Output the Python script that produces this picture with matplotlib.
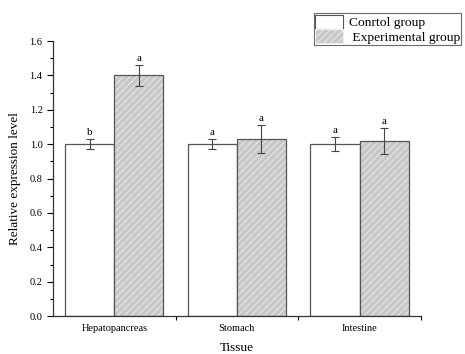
import numpy as np
import matplotlib.pyplot as plt
from matplotlib.patches import Patch
from matplotlib.ticker import MultipleLocator, FixedLocator, NullFormatter

plt.rcParams['font.family'] = ['Liberation Serif', 'DejaVu Serif']
plt.rcParams['hatch.linewidth'] = 0.6

tissues = ["Hepatopancreas", "Stomach", "Intestine"]
control_mean = [1.00, 1.00, 1.00]
control_err = [0.03, 0.03, 0.04]
exp_mean = [1.40, 1.03, 1.02]
exp_err = [0.06, 0.08, 0.075]
control_letters = ["b", "a", "a"]
exp_letters = ["a", "a", "a"]

fig = plt.figure(figsize=(4.65, 3.54), dpi=100)
ax = fig.add_axes([0.114, 0.107, 0.791, 0.777])

x = np.arange(1, len(tissues) + 1)
w = 0.4
edge = "#555555"
grey = "#c8c8c8"
hatch_col = "#eeeeee"

# control bars
ax.bar(x - w / 2, control_mean, width=w, color="white", edgecolor=edge, linewidth=0.9)
# experimental bars: grey fill with white hatch, then the outline on top
ax.bar(x + w / 2, exp_mean, width=w, color=grey, edgecolor=hatch_col, hatch="/////", linewidth=0)
ax.bar(x + w / 2, exp_mean, width=w, fill=False, edgecolor=edge, linewidth=0.9)

ax.errorbar(x - w / 2, control_mean, yerr=control_err, fmt="none", ecolor="#444444",
            elinewidth=0.8, capsize=3, capthick=0.8)
ax.errorbar(x + w / 2, exp_mean, yerr=exp_err, fmt="none", ecolor="#444444",
            elinewidth=0.8, capsize=3, capthick=0.8)

for xi, m, e, s in zip(x - w / 2, control_mean, control_err, control_letters):
    ax.text(xi, m + e + 0.012, s, ha="center", va="bottom", fontsize=8)
for xi, m, e, s in zip(x + w / 2, exp_mean, exp_err, exp_letters):
    ax.text(xi, m + e + 0.012, s, ha="center", va="bottom", fontsize=8)

ax.set_xlim(0.5, 3.5)
ax.set_ylim(0, 1.6)
ax.yaxis.set_major_locator(MultipleLocator(0.2))
ax.yaxis.set_minor_locator(MultipleLocator(0.1))
ax.yaxis.set_major_formatter(plt.FuncFormatter(lambda v, p: f"{v:.1f}"))

# group labels at centres, ticks at the boundaries
ax.set_xticks(x)
ax.set_xticklabels(tissues, fontsize=7.5)
ax.tick_params(axis="x", which="major", length=0, pad=6)
ax.xaxis.set_minor_locator(FixedLocator([1.5, 2.5, 3.5]))
ax.xaxis.set_minor_formatter(NullFormatter())
ax.tick_params(axis="x", which="minor", length=3, direction="out", width=0.8)
ax.tick_params(axis="y", which="major", length=4, direction="out", width=0.8, labelsize=7.5)
ax.tick_params(axis="y", which="minor", length=2, direction="out", width=0.8)

for side in ["top", "right"]:
    ax.spines[side].set_visible(False)
for side in ["left", "bottom"]:
    ax.spines[side].set_linewidth(0.9)
    ax.spines[side].set_color("#333333")

ax.set_xlabel("Tissue", fontsize=9.5, labelpad=6)
ax.set_ylabel("Relative expression level", fontsize=9.5, labelpad=6)

handles = [
    Patch(facecolor="white", edgecolor=edge, linewidth=0.8, label="Conrtol group"),
    Patch(facecolor=grey, edgecolor=hatch_col, hatch="/////", linewidth=0.8, label=" Experimental group"),
]
leg = fig.legend(handles=handles, loc="upper right", bbox_to_anchor=(0.992, 0.962),
                 fontsize=9.7, frameon=True, fancybox=False, edgecolor="#444444",
                 handlelength=2.1, handleheight=1.2, handletextpad=0.4,
                 borderpad=0.1, labelspacing=0.0, borderaxespad=0)
leg.get_frame().set_linewidth(0.8)

fig.savefig("out.png", dpi=100)
